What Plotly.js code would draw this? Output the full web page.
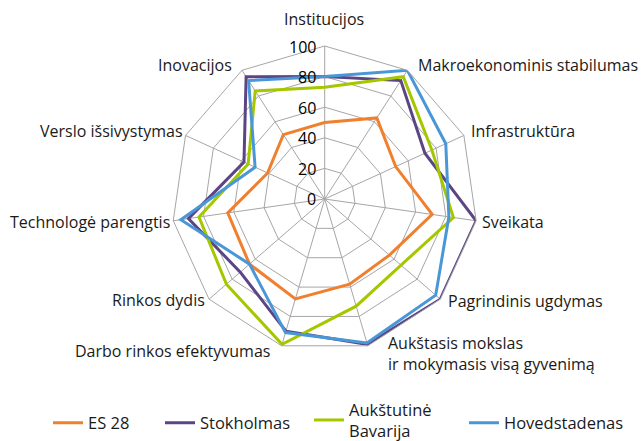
<!DOCTYPE html>
<html>
<head>
<meta charset="utf-8">
<script src="https://cdn.plot.ly/plotly-3.0.1.min.js"></script>
<style>html,body{margin:0;padding:0;background:#fff;}#chart{width:641px;height:441px;}</style>
</head>
<body>
<div id="chart"></div>
<script>
var categories = [
  "Institucijos",
  "Makroekonominis stabilumas",
  "Infrastruktūra",
  "Sveikata",
  "Pagrindinis ugdymas",
  "Aukštasis mokslas<br>ir mokymasis visą gyvenimą",
  "Darbo rinkos efektyvumas",
  "Rinkos dydis",
  "Technologė parengtis",
  "Verslo išsivystymas",
  "Inovacijos"
];
var seriesNames = ["ES 28", "Stokholmas", "Aukštutinė<br>Bavarija", "Hovedstadenas"];
var es28 = [50, 63, 51, 71, 56, 58, 68, 65, 64, 41, 50];
var stokholmas = [80, 92, 72, 100, 100, 99, 90, 73, 90, 58, 95];
var bavarija = [73, 95, 77, 85, 66, 73, 99, 85, 83, 55, 84];
var hovedstadenas = [80, 100, 87, 82, 96, 98, 91, 65, 95, 50, 92];
var radialTicks = [0, 20, 40, 60, 80, 100];

var colors = ["#F07F2E", "#5C4584", "#A5C700", "#4A97D8"];
var allSeries = [es28, stokholmas, bavarija, hovedstadenas];
var legendIds = ["legend", "legend2", "legend3", "legend4"];

var traces = allSeries.map(function (vals, i) {
  return {
    type: "scatterpolar",
    mode: "lines",
    r: vals.concat([vals[0]]),
    theta: categories.concat([categories[0]]),
    name: seriesNames[i],
    legend: legendIds[i],
    line: {color: colors[i], width: 3},
    hoverinfo: "skip"
  };
});

var cx = 324.7, cy = 199, R = 153, W = 641, H = 441;
var rMax = 100;

// label placement (pixel anchor, alignment) for the angular category labels
var labelPlace = [
  [324, 19, "center"],
  [417, 65, "left"],
  [470, 131, "left"],
  [481, 222, "left"],
  [447, 301, "left"],
  [387, 353, "left"],
  [271, 351, "right"],
  [206, 300, "right"],
  [171, 222, "right"],
  [184, 131, "right"],
  [233, 65, "right"]
];
var annotations = categories.map(function (c, i) {
  var p = labelPlace[i];
  return {
    text: c, xref: "paper", yref: "paper",
    x: p[0] / W, y: 1 - p[1] / H,
    xanchor: p[2], yanchor: "middle", align: "left",
    showarrow: false, borderpad: 0,
    font: {size: 16, color: "#1a1a1a"}
  };
});
// radial tick labels, left of the vertical spoke, centred on each ring
radialTicks.forEach(function (t) {
  var py = cy - (t / rMax) * R + 0.5;
  annotations.push({
    text: String(t), xref: "paper", yref: "paper",
    x: (cx - 8) / W, y: 1 - py / H,
    xanchor: "right", yanchor: "middle",
    showarrow: false, borderpad: 0,
    font: {size: 16, color: "#000000"}
  });
});

// legend slot positions (pixels)
var legendSlots = [48, 160, 309, 464];
var legendY = [423, 423, 420, 423];
var layout = {
  width: W, height: H,
  margin: {l: 0, r: 0, t: 0, b: 0, autoexpand: false},
  paper_bgcolor: "#ffffff",
  font: {family: "Open Sans, sans-serif", size: 16, color: "#1a1a1a"},
  showlegend: true,
  annotations: annotations,
  polar: {
    domain: {x: [(cx - R) / W, (cx + R) / W], y: [(H - cy - R) / H, (H - cy + R) / H]},
    gridshape: "linear",
    bgcolor: "#ffffff",
    angularaxis: {
      type: "category",
      categoryarray: categories,
      rotation: 90,
      direction: "clockwise",
      showline: true,
      linecolor: "#A6A6A6",
      linewidth: 1,
      gridcolor: "#A6A6A6",
      gridwidth: 1,
      ticks: "",
      showticklabels: false
    },
    radialaxis: {
      range: [0, rMax],
      tickvals: radialTicks,
      angle: 90,
      showticklabels: false,
      showline: false,
      ticks: "",
      gridcolor: "#A6A6A6",
      gridwidth: 1
    }
  }
};
legendIds.forEach(function (id, i) {
  layout[id] = {
    orientation: "h",
    x: legendSlots[i] / W, xanchor: "left",
    y: 1 - legendY[i] / H, yanchor: "middle",
    font: {size: 16.5, color: "#1a1a1a"},
    itemwidth: 30,
    bgcolor: "rgba(0,0,0,0)"
  };
});

Plotly.newPlot("chart", traces, layout, {displayModeBar: false, staticPlot: true});
</script>
</body>
</html>
